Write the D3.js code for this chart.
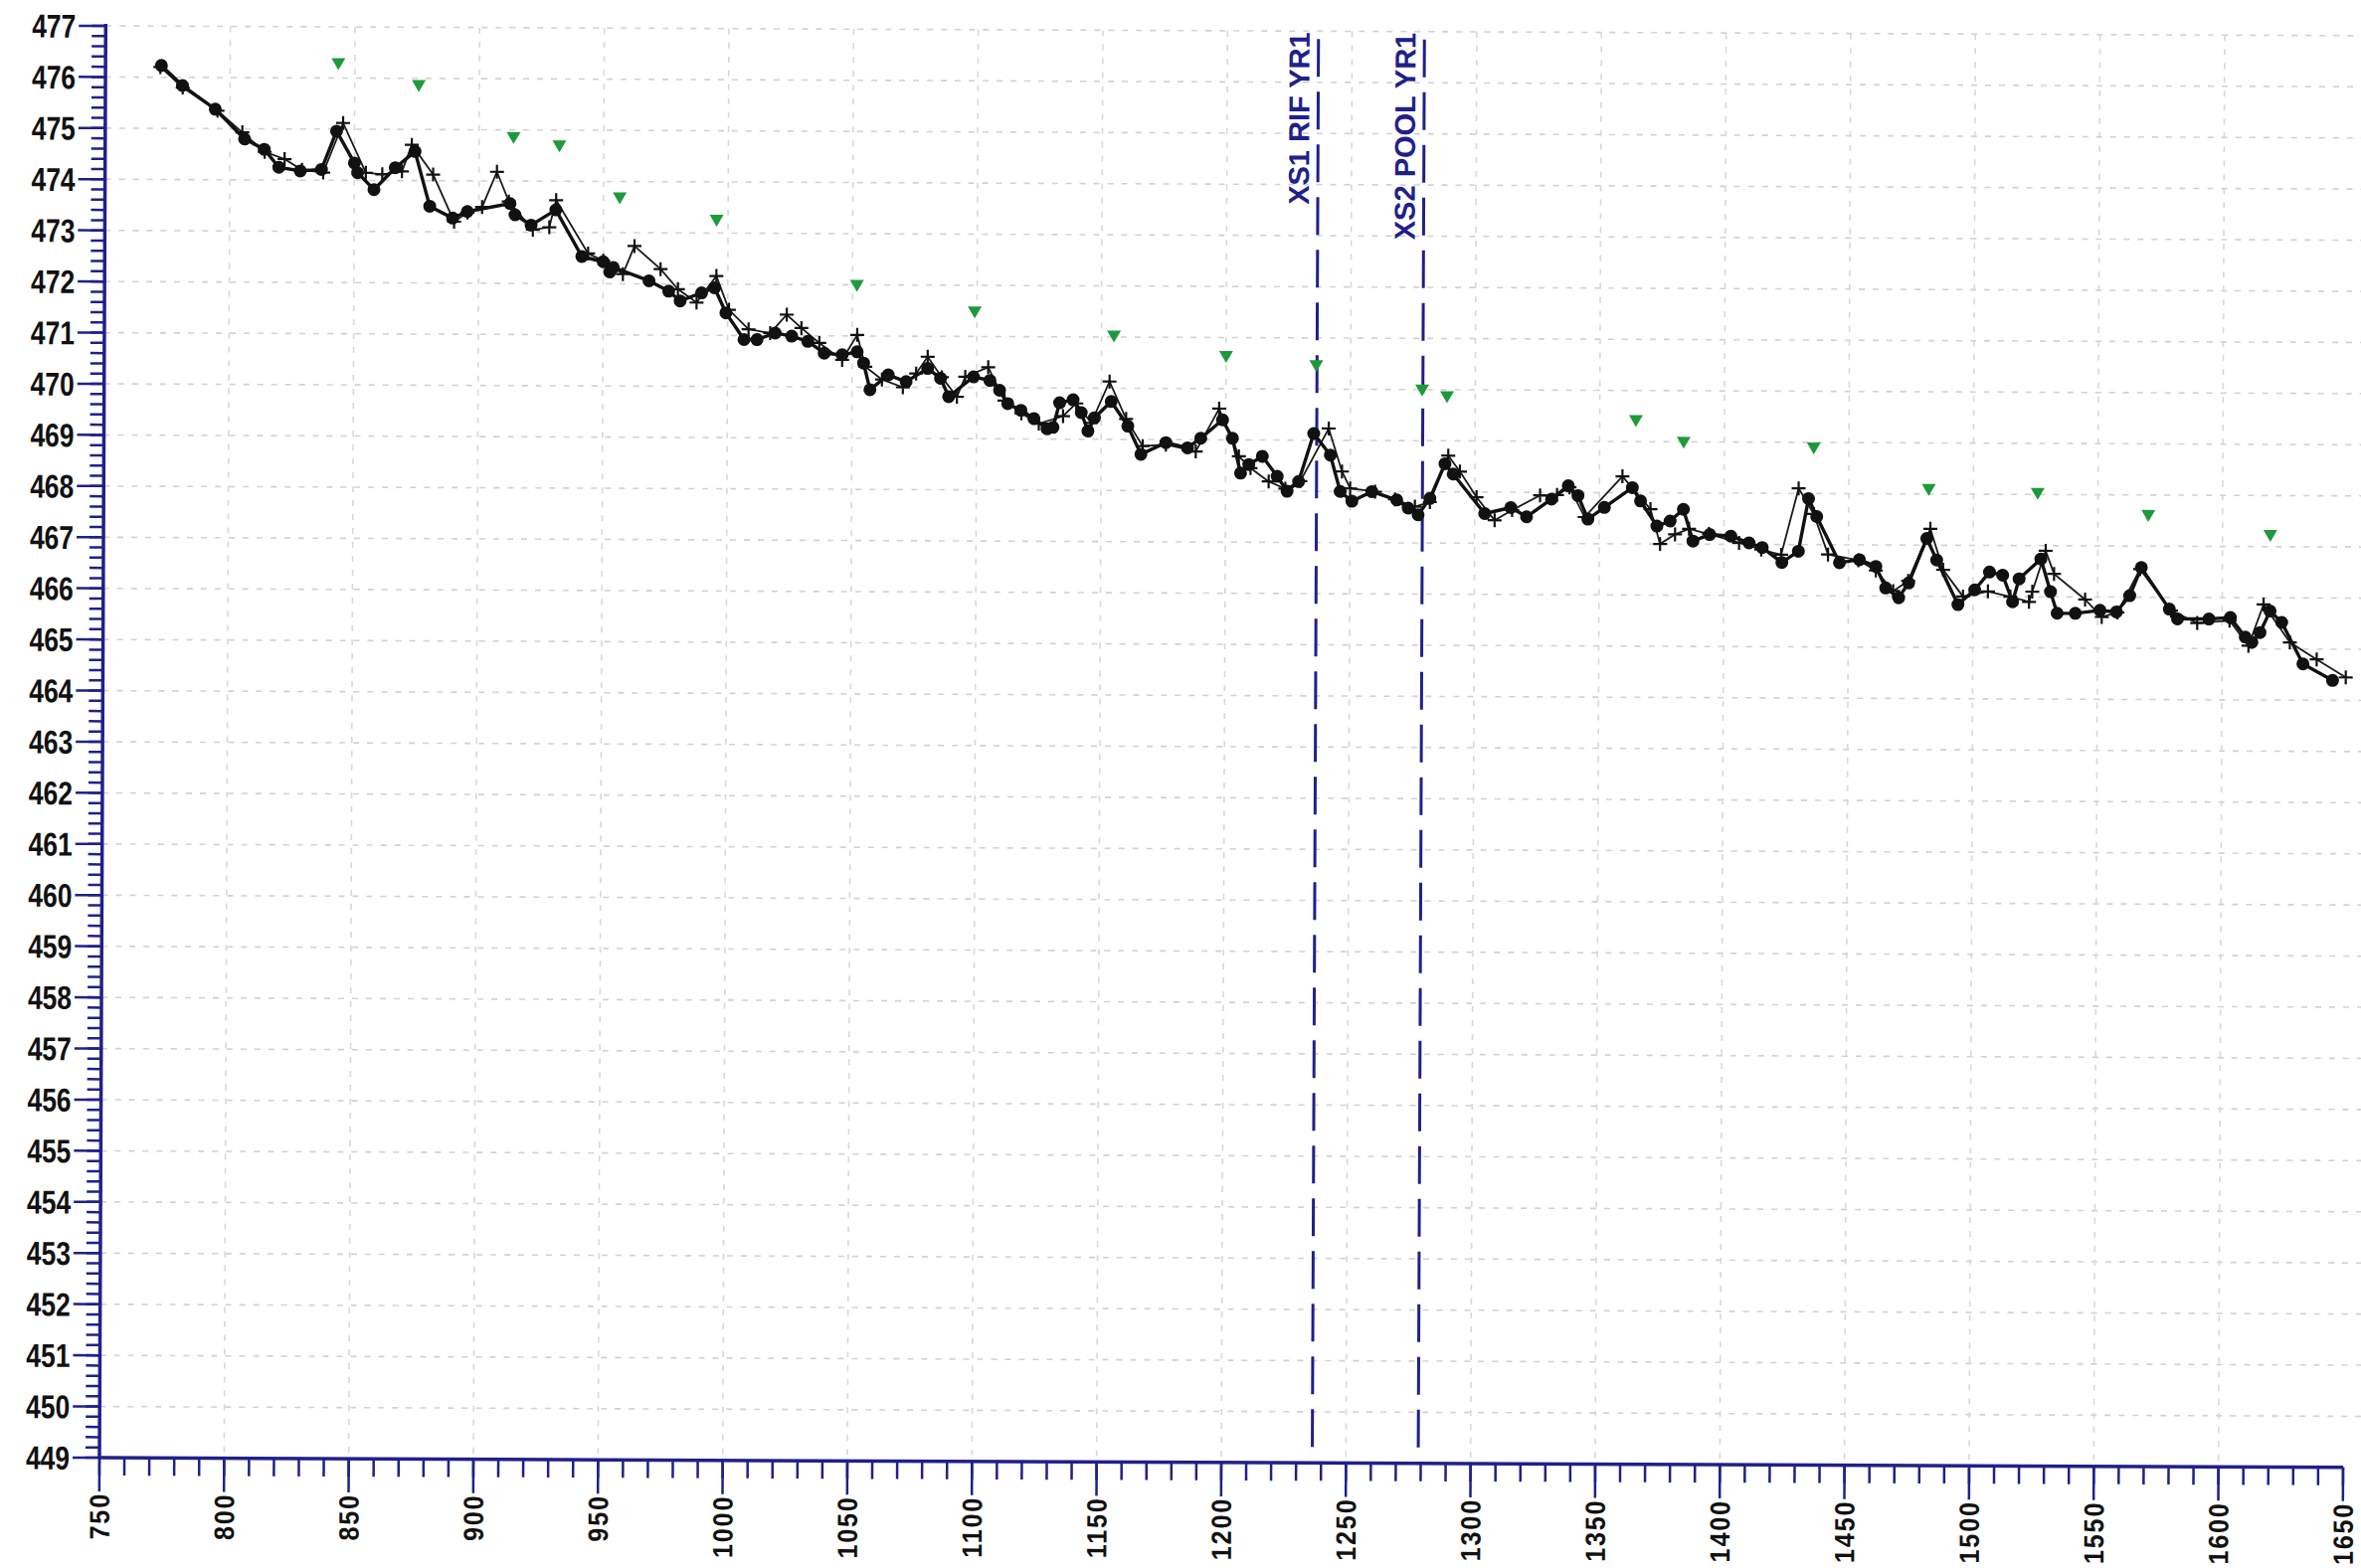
<!DOCTYPE html>
<html>
<head>
<meta charset="utf-8">
<script src="https://cdn.jsdelivr.net/npm/d3@7"></script>
<style>
  html, body { margin: 0; padding: 0; background: #ffffff; }
  svg { display: block; }
</style>
</head>
<body>
<svg id="chart" width="2374" height="1577"></svg>
<script>
// ---------------- DATA ----------------
// Profile surveyed with filled circles (station ft, elevation ft)
const dotStations = [
  772.4, 780.9, 794.1, 805.9, 813.8, 819.7, 828.3, 836.8, 842.8, 850, 851.3, 857.9, 866.4, 874.3,
  880.3, 889.5, 895.4, 912.5, 914.5, 921, 930.9, 941.4, 950, 952.6, 954, 968.4, 976.3, 980.9,
  989.5, 994.7, 999.3, 1006.6, 1011.8, 1019.1, 1025.7, 1032.2, 1038.8, 1046, 1052, 1054.6, 1057.2,
  1064.5, 1071.7, 1080.3, 1085.5, 1088.8, 1098.7, 1105.3, 1109.2, 1112.5, 1117.8, 1123, 1128.3,
  1130.7, 1133.3, 1138.7, 1142, 1144.7, 1147.3, 1154, 1160.7, 1166, 1176, 1184.7, 1190, 1198.7,
  1202.7, 1206, 1209.3, 1214.7, 1220.7, 1224.7, 1229.3, 1235.3, 1242, 1246, 1250.7, 1258.7,
  1268.7, 1273.3, 1277.3, 1282, 1288, 1291.3, 1304, 1314.5, 1320.8, 1330.8, 1337.5, 1341.4,
  1345.4, 1352, 1363.2, 1366.5, 1373.1, 1378.4, 1383.7, 1387.6, 1394.3, 1402.8, 1410.1, 1415.4,
  1423.3, 1429.9, 1433.9, 1437.2, 1446.4, 1454.4, 1461, 1465, 1470.2, 1474.2, 1481.4, 1485.4,
  1494, 1500.7, 1506.6, 1511.9, 1515.9, 1518.5, 1527.2, 1531.1, 1533.8, 1541.1, 1551, 1557.6,
  1562.9, 1567.5, 1578.8, 1582.1, 1594.7, 1603.3, 1609.3, 1612, 1615.2, 1619.2, 1623.9, 1632.5,
  1644.4
];
const dotElevations = [
  476.23, 475.84, 475.38, 474.80, 474.60, 474.25, 474.18, 474.21, 474.96, 474.34, 474.15, 473.82, 474.25, 474.57,
  473.50, 473.27, 473.40, 473.56, 473.34, 473.14, 473.44, 472.53, 472.43, 472.23, 472.32, 472.06, 471.86, 471.67,
  471.83, 471.93, 471.44, 470.92, 470.92, 471.05, 470.99, 470.89, 470.66, 470.63, 470.69, 470.47, 469.95,
  470.24, 470.11, 470.37, 470.18, 469.82, 470.21, 470.14, 469.95, 469.69, 469.56, 469.40, 469.20,
  469.23, 469.71, 469.77, 469.52, 469.16, 469.42, 469.74, 469.26, 468.71, 468.94, 468.84, 469.03, 469.39,
  469.03, 468.35, 468.52, 468.68, 468.29, 468.00, 468.19, 469.13, 468.71, 468.00, 467.81, 468.00,
  467.84, 467.68, 467.55, 467.87, 468.55, 468.35, 467.58, 467.70, 467.52, 467.87, 468.13, 467.94,
  467.48, 467.71, 468.10, 467.84, 467.35, 467.45, 467.68, 467.06, 467.19, 467.16, 467.03, 466.94,
  466.65, 466.87, 467.90, 467.55, 466.65, 466.71, 466.58, 466.16, 465.97, 466.26, 467.13, 466.71,
  465.84, 466.13, 466.48, 466.42, 465.90, 466.35, 466.74, 466.10, 465.68, 465.68, 465.74, 465.71,
  466.03, 466.58, 465.77, 465.58, 465.58, 465.61, 465.23, 465.13, 465.32, 465.74, 465.52, 464.71,
  464.39
];

// Second profile with "+" markers
const plusStations = [
  772, 781, 795, 805, 814, 822, 829, 837.5, 845.4, 854.6, 861.2, 869.1, 873, 881.6, 890.1, 895.5,
  901.3, 907.2, 912, 921.7, 928.3, 931, 943.9, 950, 957.9, 962.5, 973, 980, 987.5, 995.4, 1000.5,
  1008.4, 1017.1, 1023.7, 1029.6, 1036.8, 1046, 1052, 1055.3, 1062, 1070.4, 1075.7, 1080.3, 1086,
  1092.1, 1095.4, 1104.6, 1111.2, 1118, 1125, 1134.7, 1140, 1146, 1153.3, 1160, 1166.7, 1176, 1188,
  1197.3, 1205.3, 1210, 1217.3, 1224, 1230, 1241.3, 1246.7, 1250, 1260, 1268, 1276, 1282, 1289.3,
  1294, 1300.7, 1308, 1315, 1326.2, 1333, 1338, 1344.1, 1359.2, 1370.5, 1374.4, 1380.4, 1386, 1394,
  1406.1, 1415, 1423, 1429.9, 1436, 1441.8, 1454, 1461, 1468, 1474, 1482.8, 1488, 1496, 1506, 1515,
  1522.5, 1523.8, 1529.1, 1532.5, 1545, 1551.7, 1558, 1567, 1579.5, 1590, 1603, 1610.6, 1616.6,
  1627.2, 1638, 1649.7
];
const plusElevations = [
  476.20, 475.80, 475.35, 474.93, 474.55, 474.41, 474.20, 474.15, 475.12, 474.15, 474.12, 474.18, 474.70, 474.12, 473.20, 473.38,
  473.49, 474.18, 473.60, 473.05, 473.10, 473.63, 472.59, 472.45, 472.19, 472.74, 472.29, 471.90, 471.64, 472.16, 471.50,
  471.12, 471.05, 471.41, 471.15, 470.86, 470.53, 471.02, 470.40, 470.15, 470.00, 470.27, 470.60, 470.20,
  469.82, 470.21, 470.40, 469.75, 469.50, 469.30, 469.45, 469.70, 469.32, 470.13, 469.40, 468.87, 468.90, 468.77,
  469.61, 468.68, 468.45, 468.19, 468.05, 468.20, 469.23, 468.39, 468.06, 468.00, 467.85, 467.71, 467.80, 468.71,
  468.40, 467.90, 467.45, 467.65, 467.94, 467.95, 468.10, 467.52, 468.32, 467.68, 467.00, 467.19, 467.30, 467.20,
  467.03, 466.90, 466.80, 468.10, 467.60, 466.81, 466.70, 466.50, 466.10, 466.30, 467.32, 466.52, 466.00, 466.10, 466.00,
  465.90, 466.10, 466.90, 466.45, 465.95, 465.61, 465.70, 466.55, 465.74, 465.50, 465.55, 465.06, 465.87,
  465.13, 464.80, 464.45
];

// Green inverted triangles (water surface points)
const triStations = [
  843.4, 875.7, 913.8, 932.2, 956.5, 995.4, 1051.8, 1099.1, 1155, 1200, 1236.2, 1278.7, 1288.7,
  1364.5, 1383.7, 1435.9, 1482.1, 1525.8, 1570.2, 1619.2
];
const triElevations = [
  476.29, 475.87, 474.86, 474.70, 473.69, 473.26, 472.00, 471.49, 471.03, 470.64, 470.47, 470.00, 469.87,
  469.42, 469.00, 468.90, 468.10, 468.03, 467.61, 467.23
];

// Cross-section reference lines
const refLabels = ["XS1 RIF YR1", "XS2 POOL YR1"];
const refStations = [1236.5, 1279];

// Axis ticks
const xTickLabels = d3.range(750, 1651, 50);
const xMinorTicks = d3.range(750, 1651, 10);
const yTickLabels = d3.range(449, 478, 1);
const yMinorTicks = d3.range(0, 141).map(i => 449 + i * 0.2);

// ---------------- LAYOUT ----------------
const svg = d3.select("#chart");
const W = 2374, H = 1577;
const x0 = 100, x1 = 2356, yTop = 26, yBot = 1466;
const navy = "#20208a";
const sansBold = "'Liberation Sans', Arial, 'DejaVu Sans', sans-serif";

svg.append("rect").attr("width", W).attr("height", H).attr("fill", "#fff");

const g = svg.append("g").attr("transform", `rotate(0.25, ${x0}, ${yBot})`);

const x = d3.scaleLinear().domain([750, 1650]).range([x0, x1]);
const y = d3.scaleLinear().domain([449, 477]).range([yBot, yTop]);

// Gridlines
const grid = g.append("g");
grid.selectAll("line.h").data(yTickLabels.filter(v => v > 449)).join("line")
  .attr("x1", x0).attr("x2", W + 10)
  .attr("y1", d => y(d)).attr("y2", d => y(d))
  .attr("stroke", "#d2d2d2").attr("stroke-width", 1.6).attr("stroke-dasharray", "6,8");
grid.selectAll("line.v").data(xTickLabels.filter(v => v > 750 && v < 1650)).join("line")
  .attr("x1", d => x(d)).attr("x2", d => x(d))
  .attr("y1", yTop).attr("y2", yBot)
  .attr("stroke", "#d8d8d8").attr("stroke-width", 1.6).attr("stroke-dasharray", "6,8");

// Y axis
const yAxis = g.append("g");
yAxis.append("line").attr("x1", x0).attr("x2", x0).attr("y1", yTop - 2).attr("y2", yBot)
  .attr("stroke", navy).attr("stroke-width", 3.5);
yAxis.selectAll("line.minor").data(yMinorTicks).join("line")
  .attr("x1", x0 - 14).attr("x2", x0)
  .attr("y1", d => y(d)).attr("y2", d => y(d))
  .attr("stroke", navy).attr("stroke-width", 2.5);
yAxis.selectAll("line.major").data(yTickLabels).join("line")
  .attr("x1", x0 - 27).attr("x2", x0)
  .attr("y1", d => y(d)).attr("y2", d => y(d))
  .attr("stroke", navy).attr("stroke-width", 2.5);
yAxis.selectAll("text").data(yTickLabels).join("text")
  .attr("transform", d => `translate(${x0 - 30}, ${y(d)}) scale(0.8, 1)`)
  .attr("dy", "0.36em")
  .attr("text-anchor", "end")
  .attr("font-family", sansBold)
  .attr("font-weight", "bold").attr("font-size", 33).attr("fill", "#111")
  .text(d => d);

// X axis
const xAxis = g.append("g");
xAxis.append("line").attr("x1", x0).attr("x2", x1).attr("y1", yBot).attr("y2", yBot)
  .attr("stroke", navy).attr("stroke-width", 3.5);
xAxis.selectAll("line.minor").data(xMinorTicks).join("line")
  .attr("x1", d => x(d)).attr("x2", d => x(d))
  .attr("y1", yBot).attr("y2", yBot + 18)
  .attr("stroke", navy).attr("stroke-width", 2.5);
xAxis.selectAll("line.major").data(xTickLabels).join("line")
  .attr("x1", d => x(d)).attr("x2", d => x(d))
  .attr("y1", yBot).attr("y2", yBot + 34)
  .attr("stroke", navy).attr("stroke-width", 2.5);
xAxis.selectAll("text").data(xTickLabels).join("text")
  .attr("transform", d => `translate(${x(d)}, ${yBot + 35}) rotate(-90) scale(0.9, 1)`)
  .attr("dy", "0.36em")
  .attr("text-anchor", "end")
  .attr("font-family", sansBold)
  .attr("font-weight", "bold").attr("font-size", 28).attr("fill", "#111")
  .selectAll("tspan").data(d => [d]).join("tspan")
  .attr("letter-spacing", 2)
  .text(d => d);

// Reference lines
const refs = g.append("g");
refStations.forEach((s, i) => {
  refs.append("line")
    .attr("x1", x(s)).attr("x2", x(s)).attr("y1", yTop + 8).attr("y2", yBot)
    .attr("stroke", navy).attr("stroke-width", 3).attr("stroke-dasharray", "38,15");
  refs.append("text")
    .attr("transform", `translate(${x(s) - 9}, ${yTop + 1}) rotate(-90)`)
    .attr("text-anchor", "end")
    .attr("font-family", sansBold)
    .attr("font-weight", "bold").attr("font-size", 29)
    .attr("fill", navy)
    .text(refLabels[i]);
});

// Plus-marker profile
const plusData = plusStations.map((s, i) => [s, plusElevations[i]]);
const dotData = dotStations.map((s, i) => [s, dotElevations[i]]);
const triData = triStations.map((s, i) => [s, triElevations[i]]);
const line = d3.line().x(d => x(d[0])).y(d => y(d[1]));

g.append("path").datum(plusData).attr("d", line)
  .attr("fill", "none").attr("stroke", "#1a1a1a").attr("stroke-width", 1.8);
g.append("g").selectAll("path").data(plusData).join("path")
  .attr("transform", d => `translate(${x(d[0])}, ${y(d[1])})`)
  .attr("d", "M-7,0H7M0,-7V7")
  .attr("stroke", "#111").attr("stroke-width", 2.2).attr("fill", "none");

// Circle profile
g.append("path").datum(dotData).attr("d", line)
  .attr("fill", "none").attr("stroke", "#111").attr("stroke-width", 3.4).attr("stroke-linejoin", "round");
g.append("g").selectAll("circle").data(dotData).join("circle")
  .attr("cx", d => x(d[0])).attr("cy", d => y(d[1])).attr("r", 6.5)
  .attr("fill", "#111");

// Green triangles
g.append("g").selectAll("path").data(triData).join("path")
  .attr("transform", d => `translate(${x(d[0])}, ${y(d[1])})`)
  .attr("d", "M-7,-5L7,-5L0,7Z")
  .attr("fill", "#1e9a3c");
</script>
</body>
</html>
